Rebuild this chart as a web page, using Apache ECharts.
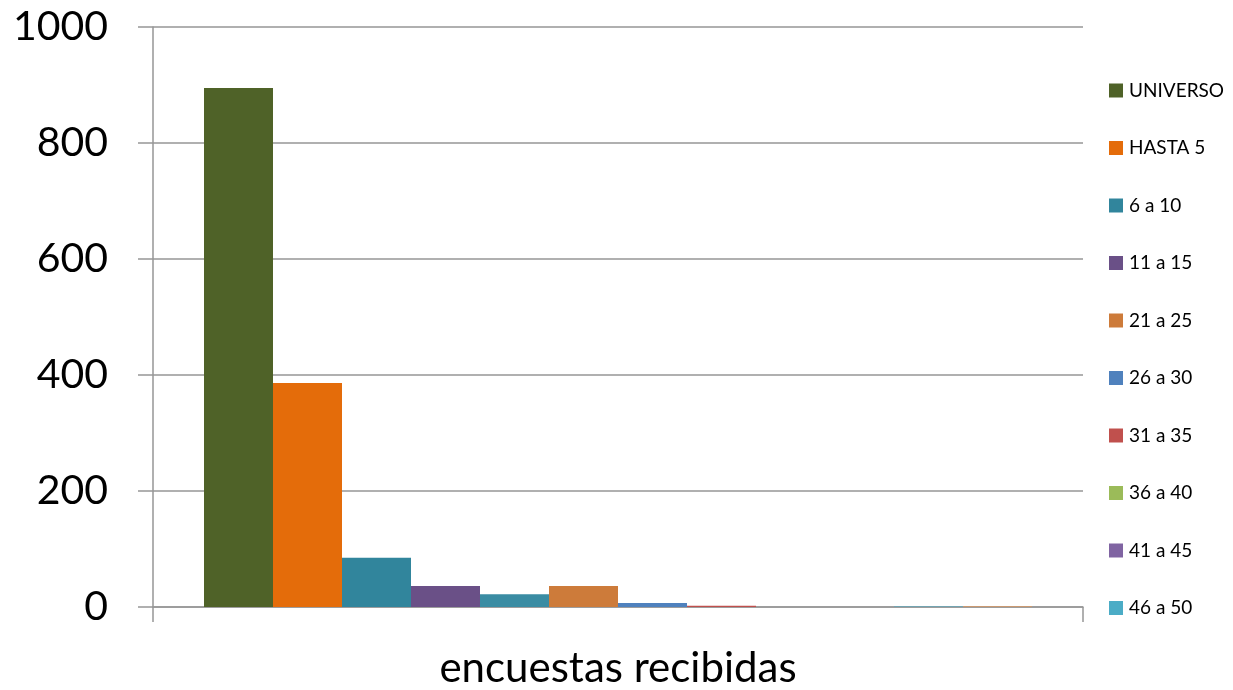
<!DOCTYPE html>
<html>
<head>
<meta charset="utf-8">
<script src="https://cdn.jsdelivr.net/npm/echarts@6/dist/echarts.min.js"></script>
<style>html,body{margin:0;padding:0;background:#fff;}#c{width:1233px;height:690px;}</style>
</head>
<body>
<div id="c"></div>
<script>
const categories = ['encuestas recibidas'];
const seriesNames = ['UNIVERSO','HASTA 5','6 a 10','11 a 15','16 a 20','21 a 25','26 a 30','31 a 35','36 a 40','41 a 45','46 a 50','más de 50'];
const seriesValues = [895, 386, 85, 36, 22, 36, 7, 2, 0, 0, 1, 1];
const seriesColors = ['#4f6228','#e46c0a','#31859c','#6a5087','#3a8ca3','#cd7b3a','#4f81bd','#c0504d','#9bbb59','#8064a2','#4bacc6','#f79646'];
const legendNames = ['UNIVERSO','HASTA 5','6 a 10','11 a 15','21 a 25','26 a 30','31 a 35','36 a 40','41 a 45','46 a 50'];
const yTicks = [0, 200, 400, 600, 800, 1000];

const chart = echarts.init(document.getElementById('c'), null, {renderer:'canvas'});
const font = 'Lato, "Open Sans", sans-serif';
chart.setOption({
  animation: false,
  textStyle: {fontFamily: font},
  grid: {left: 153, right: 150, top: 27, bottom: 83, containLabel: false},
  legend: {
    data: legendNames,
    orient: 'vertical',
    left: 1109, top: 81,
    padding: 0,
    itemWidth: 14, itemHeight: 14, itemGap: 38.5,
    icon: 'rect',
    textStyle: {fontFamily: font, fontSize: 19, color: '#000', padding: [0,0,0,1], lineHeight: 18}
  },
  xAxis: {
    type: 'category',
    data: categories,
    axisLine: {lineStyle: {color: '#969696', width: 1.5}},
    axisTick: {show: true, length: 15, lineStyle: {color: '#969696', width: 1.5}},
    axisLabel: {fontFamily: font, fontSize: 42, color: '#000', margin: 40}
  },
  yAxis: {
    type: 'value',
    min: yTicks[0], max: yTicks[yTicks.length-1], interval: 200,
    axisLine: {show: true, lineStyle: {color: '#969696', width: 1.5}},
    axisTick: {show: true, length: 15, lineStyle: {color: '#969696', width: 1.5}},
    splitLine: {show: true, lineStyle: {color: '#969696', width: 1.5}},
    axisLabel: {fontFamily: font, fontSize: 41, color: '#000', margin: 45, formatter: v => String(v)}
  },
  series: seriesNames.map((n, i) => ({
    name: n,
    type: 'bar',
    data: [seriesValues[i]],
    barWidth: 69,
    barGap: '0%',
    itemStyle: {color: seriesColors[i]}
  }))
});
</script>
</body>
</html>
